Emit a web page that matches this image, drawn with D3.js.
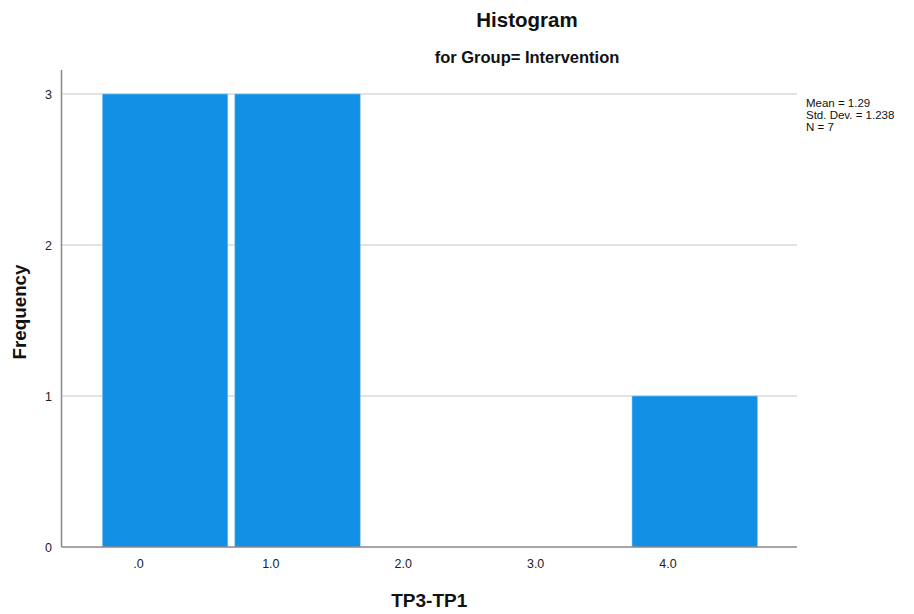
<!DOCTYPE html>
<html>
<head>
<meta charset="utf-8">
<script src="https://cdn.jsdelivr.net/npm/d3@7"></script>
<style>
  html, body { margin: 0; padding: 0; background: #fff; }
  svg { display: block; font-family: Arial, "Liberation Sans", sans-serif; }
</style>
</head>
<body>
<svg id="chart" width="914" height="614"></svg>
<script>
// Histogram bins (lower edges) and counts for TP3-TP1
const binStarts = [-0.272, 0.728, 1.728, 2.728, 3.728];
const binWidth = 1.0;
const counts = [3, 3, 0, 0, 1];
const xTicks = [0, 1, 2, 3, 4];
const xTickLabels = [".0", "1.0", "2.0", "3.0", "4.0"];
const yTicks = [0, 1, 2, 3];
const statsLines = ["Mean = 1.29", "Std. Dev. = 1.238", "N = 7"];

const svg = d3.select("#chart");
const plotLeft = 61.5, plotRight = 797, plotTop = 70, plotBottom = 547;

const x = d3.scaleLinear().domain([-0.581, 4.974]).range([plotLeft, plotRight]);
const y = d3.scaleLinear().domain([0, 3]).range([plotBottom, 94]);

// horizontal gridlines
svg.append("g")
  .selectAll("line")
  .data(yTicks.filter(d => d > 0))
  .join("line")
  .attr("x1", plotLeft).attr("x2", plotRight)
  .attr("y1", d => y(d)).attr("y2", d => y(d))
  .attr("stroke", "#c8c8c8").attr("stroke-width", 1.2);

// bars
const bins = binStarts.map((s, i) => ({ x0: s, x1: s + binWidth, n: counts[i] }));
svg.append("g")
  .selectAll("rect")
  .data(bins.filter(b => b.n > 0))
  .join("rect")
  .attr("x", d => x(d.x0))
  .attr("width", d => x(d.x1) - x(d.x0) - 7)
  .attr("y", d => y(d.n))
  .attr("height", d => y(0) - y(d.n))
  .attr("fill", "#1290e6")
  .attr("stroke", "#8cc6f0")
  .attr("stroke-width", 0.6);

// axis lines
svg.append("line").attr("x1", plotLeft).attr("x2", plotLeft).attr("y1", plotTop).attr("y2", plotBottom)
  .attr("stroke", "#888").attr("stroke-width", 1.5);
svg.append("line").attr("x1", plotLeft).attr("x2", plotRight).attr("y1", plotBottom).attr("y2", plotBottom)
  .attr("stroke", "#888").attr("stroke-width", 1.5);

// y tick labels
svg.append("g")
  .selectAll("text")
  .data(yTicks)
  .join("text")
  .attr("x", 52).attr("y", d => y(d) + 4.5)
  .attr("text-anchor", "end")
  .attr("font-size", 12.5).attr("fill", "#222")
  .text(d => d);

// x tick labels
svg.append("g")
  .selectAll("text")
  .data(xTicks)
  .join("text")
  .attr("x", d => x(d)).attr("y", 568)
  .attr("text-anchor", "middle")
  .attr("font-size", 12.5).attr("fill", "#222")
  .text((d, i) => xTickLabels[i]);

// titles
svg.append("text").attr("x", 527).attr("y", 27).attr("text-anchor", "middle")
  .attr("font-size", 20.5).attr("font-weight", "bold").attr("fill", "#111").text("Histogram");
svg.append("text").attr("x", 527).attr("y", 63).attr("text-anchor", "middle")
  .attr("font-size", 16.5).attr("font-weight", "bold").attr("fill", "#111").text("for Group= Intervention");

// axis titles
svg.append("text").attr("x", (plotLeft + plotRight) / 2).attr("y", 607).attr("text-anchor", "middle")
  .attr("font-size", 19).attr("font-weight", "bold").attr("fill", "#111").text("TP3-TP1");
svg.append("text").attr("transform", "translate(26,312) rotate(-90)").attr("text-anchor", "middle")
  .attr("font-size", 18.8).attr("font-weight", "bold").attr("fill", "#111").text("Frequency");

// summary statistics
svg.append("g")
  .selectAll("text")
  .data(statsLines)
  .join("text")
  .attr("x", 806).attr("y", (d, i) => 107 + i * 12)
  .attr("font-size", 11.5).attr("fill", "#111")
  .text(d => d);
</script>
</body>
</html>
